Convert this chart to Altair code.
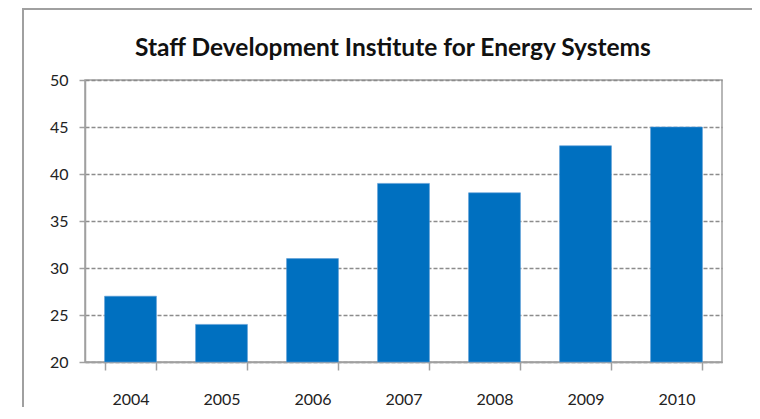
import altair as alt
import pandas as pd

years = ["2004", "2005", "2006", "2007", "2008", "2009", "2010"]
values = [27, 24, 31, 39, 38, 43, 45]
y_ticks = [20, 25, 30, 35, 40, 45, 50]
title_text = "Staff Development Institute for Energy Systems"

df = pd.DataFrame({"year": years, "value": values})

W, H = 637, 282
GRAY = "#a0a0a0"

bars = alt.Chart(df).mark_bar(color="#0070C0", stroke="#5b9bd5", strokeWidth=0.6).encode(
    x=alt.X("year:N", sort=years,
            scale=alt.Scale(paddingInner=0.43, paddingOuter=0.215),
            axis=alt.Axis(title=None, labelAngle=0, tickBand="extent", tickSize=8,
                          tickColor=GRAY, tickWidth=1.5, domainColor=GRAY, domainWidth=1.5,
                          labelFont="Lato", labelFontSize=16, labelColor="#222222",
                          labelPadding=21, grid=False)),
    y=alt.Y("value:Q", scale=alt.Scale(domain=[20, 50], nice=False, zero=False),
            axis=alt.Axis(title=None, values=y_ticks, tickSize=6, tickColor=GRAY, tickWidth=1.5,
                          domainColor=GRAY, domainWidth=1.5,
                          labelFont="Lato", labelFontSize=16, labelColor="#222222",
                          labelPadding=11, grid=True, gridColor="#8c8c8c",
                          gridDash=[4, 2], gridWidth=1.5)),
    y2=alt.datum(20),
)

frame = alt.Chart(alt.Data(values=[{"a": 1}])).mark_rect(
    fill=None, stroke=GRAY, strokeWidth=2
).encode(
    x=alt.value(23 - 85), y=alt.value(9 - 80),
    x2=alt.value(760), y2=alt.value(420),
)

title = alt.Chart(alt.Data(values=[{"t": title_text}])).mark_text(
    font="Lato", fontSize=24.5, fontWeight="bold", color="#111111",
    baseline="alphabetic", align="center"
).encode(
    x=alt.value(393 - 85), y=alt.value(56 - 80), text="t:N"
)

chart = alt.layer(frame, bars, title).properties(
    width=W, height=H,
    autosize=alt.AutoSizeParams(type="none"),
    padding={"left": 77, "top": 72, "right": 30, "bottom": 45},
    background="white",
).configure_view(stroke=GRAY, strokeWidth=1.5)

chart.save("out.html", embed_options={"renderer": "svg", "actions": False})
